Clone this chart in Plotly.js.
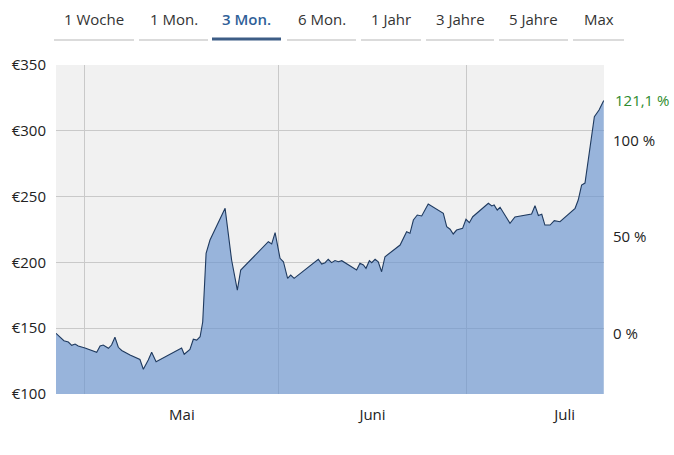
<!DOCTYPE html>
<html>
<head>
<meta charset="utf-8">
<script src="https://cdn.plot.ly/plotly-3.0.1.min.js"></script>
<style>html,body{margin:0;padding:0;background:#fff;}#chart{width:674px;height:455px;}</style>
</head>
<body>
<div id="chart"></div>
<script>
// ---- data ----
const dates = [
 '2024-04-26 08:40','2024-04-27 00:00','2024-04-27 15:00','2024-04-28 08:00','2024-04-28 21:00',
 '2024-04-29 10:00','2024-04-29 22:00','2024-05-01 00:00','2024-05-02 02:00','2024-05-02 21:00',
 '2024-05-03 10:00','2024-05-03 22:00','2024-05-04 18:00','2024-05-05 06:00','2024-05-05 19:00',
 '2024-05-06 08:00','2024-05-06 21:00','2024-05-08 05:00','2024-05-09 19:00','2024-05-10 08:00',
 '2024-05-11 03:00','2024-05-11 16:00','2024-05-12 09:00','2024-05-16 11:00','2024-05-16 21:00',
 '2024-05-17 19:00','2024-05-18 08:00','2024-05-18 21:00','2024-05-19 10:00','2024-05-19 20:00',
 '2024-05-20 09:00','2024-05-21 00:00','2024-05-23 10:00','2024-05-24 11:00','2024-05-25 09:00',
 '2024-05-25 22:00','2024-05-30 08:00','2024-05-30 21:00','2024-05-31 10:00','2024-06-01 05:00',
 '2024-06-01 18:00','2024-06-02 10:00','2024-06-02 22:00','2024-06-03 11:00','2024-06-07 08:00',
 '2024-06-07 21:00','2024-06-08 10:00','2024-06-08 22:00','2024-06-09 11:00','2024-06-10 00:00',
 '2024-06-10 13:00','2024-06-11 02:00','2024-06-13 11:00','2024-06-14 00:00','2024-06-14 13:00',
 '2024-06-14 23:00','2024-06-15 12:00','2024-06-15 21:00','2024-06-16 10:00','2024-06-16 22:00',
 '2024-06-17 11:00','2024-06-18 00:00','2024-06-20 10:00','2024-06-21 11:00','2024-06-22 00:00',
 '2024-06-22 13:00','2024-06-23 04:00','2024-06-23 21:00','2024-06-24 22:00','2024-06-27 08:00',
 '2024-06-27 21:00','2024-06-28 10:00','2024-06-28 22:00','2024-06-29 11:00','2024-06-30 10:00',
 '2024-06-30 23:00','2024-07-01 12:00','2024-07-02 01:00','2024-07-04 13:00','2024-07-05 02:00',
 '2024-07-05 11:00','2024-07-05 23:00','2024-07-06 10:00','2024-07-07 05:00','2024-07-08 00:00',
 '2024-07-08 19:00','2024-07-09 14:00','2024-07-11 11:00','2024-07-12 00:00','2024-07-12 13:00',
 '2024-07-13 02:00','2024-07-13 14:00','2024-07-14 10:00','2024-07-15 02:00','2024-07-16 00:00',
 '2024-07-18 10:00','2024-07-18 22:00','2024-07-19 11:00','2024-07-20 00:00','2024-07-20 19:00',
 '2024-07-21 12:00','2024-07-22 06:00','2024-07-22 16:00','2024-07-23 00:00'
];
const prices = [
 146.1,143.5,140.5,139.5,137.0,
 138.0,136.5,135.0,133.4,131.7,
 136.5,137.2,134.7,137.2,143.1,
 135.5,133.1,129.6,126.2,118.8,
 125.8,131.7,124.5,135.0,130.2,
 133.8,141.6,141.0,143.5,154.7,
 206.9,217.0,241.1,201.8,179.0,
 194.2,215.7,214.0,222.6,203.1,
 200.5,187.9,190.4,187.9,202.4,
 198.8,199.8,202.4,199.8,201.4,
 200.5,201.3,194.2,199.3,198.0,
 195.5,201.3,199.8,202.4,200.5,
 192.9,204.3,213.2,223.3,222.1,
 232.2,236.0,235.3,244.4,237.3,
 227.1,225.2,221.6,224.6,225.9,
 232.8,230.2,234.7,244.9,242.9,
 243.6,239.8,241.9,236.0,229.7,
 234.5,235.3,236.8,243.1,235.6,
 236.6,228.4,228.4,231.7,230.9,
 241.1,247.4,258.8,260.3,285.4,
 310.7,315.8,319.6,323.0
];
const monthStarts = ['2024-05-01','2024-06-01','2024-07-01'];
const monthMids = ['2024-05-16 12:00','2024-06-16','2024-07-16 18:00'];
const monthLabels = ['Mai','Juni','Juli'];
const priceTicks = [100,150,200,250,300,350];
const priceLabels = ['€100','€150','€200','€250','€300','€350'];
const pctTicks = [0,50,100];
const pctLabels = ['0 %','50 %','100 %'];
const tabs = ['1 Woche','1 Mon.','3 Mon.','6 Mon.','1 Jahr','3 Jahre','5 Jahre','Max'];
const selectedTab = '3 Mon.';

// ---- layout helpers ----
const W = 674, H = 455;
const M = {l:56, r:70, t:65, b:61};
const PW = W - M.l - M.r, PH = H - M.t - M.b;
const px = x => (x - M.l) / PW;
const py = y => (H - M.b - y) / PH;
const tabSeg = [[54,134],[139,208],[212,281],[287,356],[361,421],[426,494],[499,568],[573,624]];

const FONT = '"Open Sans", "Noto Sans", sans-serif';
const base = prices[0];
const yMin = 100, yMax = 350;
const pctRange = [(yMin/base-1)*100, (yMax/base-1)*100];
const lastPct = (prices[prices.length-1]/base - 1)*100;

const annotations = [];
const shapes = [];
tabs.forEach((t,i) => {
  const s = tabSeg[i];
  const sel = t === selectedTab;
  annotations.push({
    text: t, xref:'paper', yref:'paper', x: px((s[0]+s[1])/2), y: py(19),
    xanchor:'center', yanchor:'middle', showarrow:false,
    font:{family:FONT, size:15, color: sel ? '#2f5f98' : '#333333', weight: sel ? 600 : 400}
  });
  shapes.push({
    type:'line', xref:'paper', yref:'paper', x0:px(s[0]), x1:px(s[1]),
    y0:py(sel ? 39 : 40), y1:py(sel ? 39 : 40),
    line:{color: sel ? '#3d5d86' : '#cfcfcf', width: sel ? 3 : 1.5}
  });
});
annotations.push({
  text: lastPct.toFixed(1).replace('.', ',') + ' %',
  xref:'paper', yref:'y', x:1, y:prices[prices.length-1],
  xanchor:'left', yanchor:'middle', xshift:9, yshift:1, showarrow:false,
  font:{family:FONT, size:15, color:'#2e8b2e'}
});

const traces = [
  {
    x: dates, y: prices, type:'scatter', mode:'lines',
    fill:'tozeroy', fillcolor:'rgba(102,146,206,0.64)',
    line:{color:'#1f3a5f', width:1.1}, hoverinfo:'skip', showlegend:false
  },
  {
    x:[dates[0]], y:[0], yaxis:'y2', type:'scatter', mode:'markers',
    marker:{opacity:0}, hoverinfo:'skip', showlegend:false
  }
];

const layout = {
  width: W, height: H,
  margin: M,
  paper_bgcolor:'#ffffff', plot_bgcolor:'#f1f1f1',
  font:{family:FONT, size:15, color:'#222222'},
  separators: ',.',
  showlegend:false,
  xaxis:{
    type:'date', range:[dates[0], '2024-07-23 01:00'],
    tickmode:'array', tickvals: monthMids, ticktext: monthLabels,
    showgrid:false, zeroline:false, showline:false, ticks:'',
    ticklabelstandoff: 10,
    minor:{tickmode:'array', tickvals: monthStarts, showgrid:true, gridcolor:'#c9c9c9', gridwidth:1, ticks:''},
    fixedrange:true
  },
  yaxis:{
    range:[yMin, yMax], tickmode:'array', tickvals: priceTicks, ticktext: priceLabels,
    showgrid:true, gridcolor:'#c9c9c9', gridwidth:1, zeroline:false, showline:false,
    ticks:'', ticklabelstandoff: 9, fixedrange:true
  },
  yaxis2:{
    overlaying:'y', side:'right', range: pctRange, tickmode:'array', tickvals: pctTicks, ticktext: pctLabels,
    showgrid:false, zeroline:false, showline:false, ticks:'',
    ticklabelstandoff: 8, fixedrange:true
  },
  annotations: annotations,
  shapes: shapes
};

Plotly.newPlot('chart', traces, layout, {staticPlot:true, displayModeBar:false});
</script>
</body>
</html>
